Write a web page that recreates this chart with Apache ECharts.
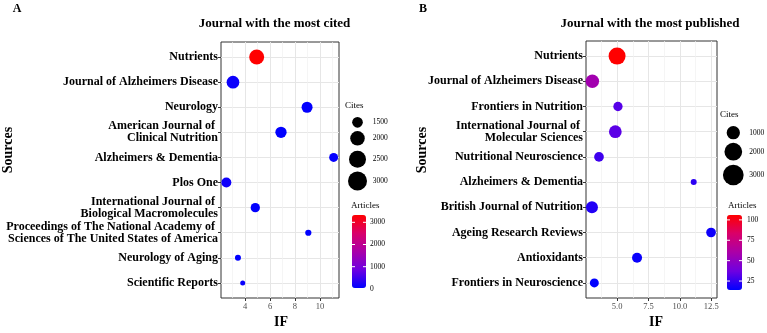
<!DOCTYPE html>
<html>
<head>
<meta charset="utf-8">
<script src="https://cdn.jsdelivr.net/npm/echarts@6/dist/echarts.min.js"></script>
<style>
html, body { margin: 0; padding: 0; background: #fff; }
#chart { width: 767px; height: 333px; }
</style>
</head>
<body>
<div id="chart"></div>
<script>
'use strict';

// A - journals with the most cited
var citedSources = ['Nutrients', 'Journal of Alzheimers Disease', 'Neurology', 'American Journal of \nClinical Nutrition',
	'Alzheimers & Dementia', 'Plos One', 'International Journal of \nBiological Macromolecules',
	'Proceedings of The National Academy of \nSciences of The United States of America', 'Neurology of Aging', 'Scientific Reports'];
var citedIF = [4.93, 3.03, 8.97, 6.88, 11.1, 2.5, 4.82, 9.07, 3.43, 3.81];
var citedCites = [3360, 2530, 2060, 2130, 1650, 1840, 1700, 1360, 1350, 1330];
var citedArticles = [3330, 130, 60, 45, 80, 150, 55, 40, 50, 110];
var citedIFTicks = [4, 6, 8, 10];
var citedIFMinor = [3, 5, 7, 9, 11];
var citedSizeBreaks = [1500, 2000, 2500, 3000];
var citedColorBreaks = [0, 1000, 2000, 3000];

// B - journals with the most published
var publishedSources = ['Nutrients', 'Journal of Alzheimers Disease', 'Frontiers in Nutrition', 'International Journal of \nMolecular Sciences',
	'Nutritional Neuroscience', 'Alzheimers & Dementia', 'British Journal of Nutrition', 'Ageing Research Reviews',
	'Antioxidants', 'Frontiers in Neuroscience'];
var publishedIF = [5.0, 3.03, 5.07, 4.86, 3.56, 11.1, 3.0, 12.48, 6.59, 3.19];
var publishedCites = [3210, 1770, 760, 1520, 825, 520, 1320, 825, 880, 720];
var publishedArticles = [106, 57, 32, 33, 27, 23, 21, 17, 16, 14];
var publishedIFTicks = [5, 7.5, 10, 12.5];
var publishedIFMinor = [3.75, 6.25, 8.75, 11.25];
var publishedSizeBreaks = [1000, 2000, 3000];
var publishedColorBreaks = [25, 50, 75, 100];

var serif = 'Liberation Serif';
var gradient = ['#0000ff', '#6e00e1', '#aa00a8', '#d9006a', '#ff0000'];

function minOf(a) { return Math.min.apply(null, a); }
function maxOf(a) { return Math.max.apply(null, a); }

// ggplot style 5% expansion
function expand(a) {
	var lo = minOf(a), hi = maxOf(a), pad = (hi - lo) * 0.05;
	return [lo - pad, hi + pad];
}

function sizeScale(values, dMin, dMax) {
	var lo = minOf(values), hi = maxOf(values);
	return function (v) {
		return dMin + (dMax - dMin) * Math.sqrt(Math.max(0, (v - lo) / (hi - lo)));
	};
}

function indices(a) {
	return a.map(function (d, i) { return i; });
}

var panels = [{
	sources: citedSources, ifs: citedIF, cites: citedCites, articles: citedArticles,
	ticks: citedIFTicks, minor: citedIFMinor, sizeBreaks: citedSizeBreaks, colorBreaks: citedColorBreaks,
	size: sizeScale(citedCites, 5, 15), legendScale: 1.35,
	grid: { left: 221, top: 42, width: 118, height: 256 },
	fmt: function (v) { return String(v); },
	tag: 'A', tagX: 17, title: 'Journal with the most cited', titleX: 274.5, sourcesX: 8, ifX: 281,
	citesTitle: { x: 345, y: 106 }, keyX: 357.5, keyY: [122.3, 138.3, 159.3, 181], keyLabelX: 372.7,
	bar: { left: 352, top: 215, width: 14, height: 73 }, barLabelX: 370, articlesTitle: { x: 351, y: 206 }
}, {
	sources: publishedSources, ifs: publishedIF, cites: publishedCites, articles: publishedArticles,
	ticks: publishedIFTicks, minor: publishedIFMinor, sizeBreaks: publishedSizeBreaks, colorBreaks: publishedColorBreaks,
	size: sizeScale(publishedCites, 6, 17), legendScale: 1.25,
	grid: { left: 586, top: 41, width: 131, height: 257 },
	fmt: function (v) { return v.toFixed(1); },
	tag: 'B', tagX: 423, title: 'Journal with the most published', titleX: 650, sourcesX: 422, ifX: 656,
	citesTitle: { x: 720, y: 115 }, keyX: 733.3, keyY: [132.7, 151.7, 175], keyLabelX: 749.3,
	bar: { left: 727, top: 215, width: 15, height: 75 }, barLabelX: 747, articlesTitle: { x: 728, y: 206 }
}];

var grids = [], xAxes = [], yAxes = [], series = [], visualMaps = [], graphics = [];

panels.forEach(function (p, k) {
	var xr = expand(p.ifs);
	var n = p.sources.length;
	var idx = indices(p.sources);

	grids.push({
		left: p.grid.left, top: p.grid.top, width: p.grid.width, height: p.grid.height,
		show: true, borderColor: '#333', borderWidth: 1, backgroundColor: '#fff'
	});

	xAxes.push({
		gridIndex: k, type: 'value', min: xr[0], max: xr[1], position: 'bottom',
		axisLine: { show: false, onZero: false },
		axisTick: { show: true, customValues: p.ticks, length: 3, lineStyle: { color: '#333' } },
		axisLabel: { customValues: p.ticks, formatter: p.fmt, margin: 4, fontSize: 8.5, fontFamily: serif, color: '#4d4d4d' },
		splitLine: { show: true, lineStyle: { color: '#e6e6e6', width: 1 } }
	});
	xAxes.push({
		gridIndex: k, type: 'value', min: xr[0], max: xr[1], position: 'bottom',
		axisLine: { show: false, onZero: false },
		axisTick: { show: false, customValues: p.minor },
		axisLabel: { show: false, customValues: p.minor },
		splitLine: { show: true, lineStyle: { color: '#f1f1f1', width: 0.7 } }
	});

	yAxes.push({
		gridIndex: k, type: 'value', inverse: true, min: -0.6, max: n - 1 + 0.6,
		axisLine: { show: false, onZero: false },
		axisTick: { show: true, customValues: idx, length: 3, lineStyle: { color: '#333' } },
		axisLabel: {
			customValues: idx, margin: 3, fontSize: 12, fontWeight: 'bold', fontFamily: serif,
			color: '#000', lineHeight: 12,
			formatter: (function (names) { return function (v) { return names[Math.round(v)]; }; })(p.sources)
		},
		splitLine: { show: true, lineStyle: { color: '#e6e6e6', width: 1 } }
	});

	series.push({
		type: 'scatter', xAxisIndex: k * 2, yAxisIndex: k,
		data: p.ifs.map(function (x, i) { return [x, i, p.cites[i], p.articles[i]]; }),
		symbolSize: (function (f) { return function (val) { return f(val[2]); }; })(p.size),
		itemStyle: { opacity: 1 },
		z: 5
	});

	var aMin = minOf(p.articles), aMax = maxOf(p.articles);
	visualMaps.push({
		type: 'continuous', seriesIndex: k, dimension: 3, min: aMin, max: aMax,
		inRange: { color: gradient }, calculable: false, hoverLink: false,
		left: p.bar.left, top: p.bar.top, itemWidth: p.bar.width, itemHeight: p.bar.height,
		padding: 0, text: null, showLabel: false
	});

	// panel letter and title
	graphics.push({ type: 'text', x: p.tagX, y: 9, style: { text: p.tag, fontSize: 12, fontWeight: 'bold', fontFamily: serif, fill: '#000', align: 'center', verticalAlign: 'middle' } });
	graphics.push({ type: 'text', x: p.titleX, y: 24, style: { text: p.title, fontSize: 13, fontWeight: 'bold', fontFamily: serif, fill: '#000', align: 'center', verticalAlign: 'middle' } });
	// axis titles
	graphics.push({ type: 'text', x: p.sourcesX, y: 150, rotation: Math.PI / 2, style: { text: 'Sources', fontSize: 14, fontWeight: 'bold', fontFamily: serif, fill: '#000', align: 'center', verticalAlign: 'middle' } });
	graphics.push({ type: 'text', x: p.ifX, y: 322, style: { text: 'IF', fontSize: 14, fontWeight: 'bold', fontFamily: serif, fill: '#000', align: 'center', verticalAlign: 'middle' } });

	// size legend
	graphics.push({ type: 'text', x: p.citesTitle.x, y: p.citesTitle.y, style: { text: 'Cites', fontSize: 9, fontFamily: serif, fill: '#000', align: 'left', verticalAlign: 'middle' } });
	p.sizeBreaks.forEach(function (b, i) {
		graphics.push({ type: 'circle', shape: { cx: p.keyX, cy: p.keyY[i], r: p.size(b) * p.legendScale / 2 }, style: { fill: '#000' } });
		graphics.push({ type: 'text', x: p.keyLabelX, y: p.keyY[i], style: { text: String(b), fontSize: 7.5, fontFamily: serif, fill: '#000', align: 'left', verticalAlign: 'middle' } });
	});

	// colour legend
	graphics.push({ type: 'text', x: p.articlesTitle.x, y: p.articlesTitle.y, style: { text: 'Articles', fontSize: 9, fontFamily: serif, fill: '#000', align: 'left', verticalAlign: 'middle' } });
	p.colorBreaks.forEach(function (b) {
		var y = p.bar.top + p.bar.height * (1 - (b - aMin) / (aMax - aMin));
		graphics.push({ type: 'text', x: p.barLabelX, y: y, style: { text: String(b), fontSize: 7.5, fontFamily: serif, fill: '#000', align: 'left', verticalAlign: 'middle' } });
		if (y >= p.bar.top && y <= p.bar.top + p.bar.height) {
			graphics.push({ type: 'line', z: 100, shape: { x1: p.bar.left, y1: y, x2: p.bar.left + 3, y2: y }, style: { stroke: '#fff', lineWidth: 1 } });
			graphics.push({ type: 'line', z: 100, shape: { x1: p.bar.left + p.bar.width - 3, y1: y, x2: p.bar.left + p.bar.width, y2: y }, style: { stroke: '#fff', lineWidth: 1 } });
		}
	});
});

var chart = echarts.init(document.getElementById('chart'));
chart.setOption({
	backgroundColor: '#fff',
	animation: false,
	grid: grids,
	xAxis: xAxes,
	yAxis: yAxes,
	visualMap: visualMaps,
	series: series,
	graphic: graphics
});
</script>
</body>
</html>
